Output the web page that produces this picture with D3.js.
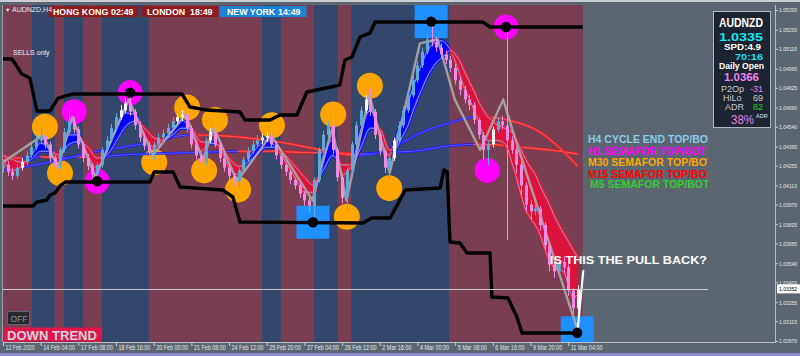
<!DOCTYPE html>
<html><head><meta charset="utf-8">
<script src="https://d3js.org/d3.v7.min.js"></script>
<style>
html,body{margin:0;padding:0;background:#5b6670;overflow:hidden}
svg{display:block}
text{font-family:"Liberation Sans",Arial,Helvetica,sans-serif}
</style></head><body>
<svg id="chart" width="800" height="356"></svg>
<script>
// ---------------- DATA ----------------
const priceTicks = ["1.05395","1.05250","1.05110","1.04965","1.04825","1.04680","1.04540","1.04395","1.04255","1.04110","1.03970","1.03825","1.03685","1.03540","1.03400","1.03255","1.03115","1.02970"];
const timeTickBars = [0,8,16,24,32,40,48,56,64,72,80,88,96,104,112,120];
const timeLabels = ["12 Feb 2020","14 Feb 04:00","17 Feb 08:00","18 Feb 16:00","20 Feb 00:00","21 Feb 08:00","24 Feb 12:00","25 Feb 20:00","27 Feb 04:00","28 Feb 12:00","2 Mar 16:00","4 Mar 00:00","5 Mar 08:00","6 Mar 16:00","9 Mar 20:00","11 Mar 04:00"];
const sessionEdges = [-0.6,6.1,11,12.9,17,21,31,55,59,66,71.1,73.9,94.7,123.1];
const sessionKinds = ["r","b","r","b","r","b","r","b","r","b","r","b","r"];

const candleOpen = [1.0424,1.0426,1.0421,1.0418,1.0424,1.0428,1.0433,1.0439,1.0444,1.0447,1.0441,1.0431,1.0425,1.0437,1.0450,1.0458,1.0452,1.0441,1.0431,1.0425,1.0419,1.0426,1.0437,1.0444,1.0453,1.0461,1.0466,1.0471,1.0465,1.0455,1.0446,1.0440,1.0436,1.0441,1.0446,1.0449,1.0453,1.0458,1.0461,1.0463,1.0453,1.0441,1.0433,1.0428,1.0444,1.0450,1.0441,1.0431,1.0424,1.0418,1.0414,1.0422,1.0430,1.0436,1.0441,1.0444,1.0446,1.0447,1.0441,1.0433,1.0426,1.0421,1.0415,1.0411,1.0405,1.0400,1.0396,1.0415,1.0437,1.0448,1.0455,1.0437,1.0417,1.0402,1.0422,1.0441,1.0455,1.0466,1.0474,1.0465,1.0448,1.0436,1.0424,1.0431,1.0444,1.0455,1.0466,1.0477,1.0488,1.0499,1.0509,1.0518,1.0516,1.0512,1.0507,1.0503,1.0497,1.0488,1.0481,1.0474,1.0470,1.0459,1.0448,1.0437,1.0441,1.0452,1.0458,1.0455,1.0444,1.0437,1.0426,1.0411,1.0397,1.0392,1.0394,1.0382,1.0367,1.0353,1.0348,1.0355,1.0351,1.0334,1.0321];
const candleHigh = [1.0430,1.0429,1.0424,1.0427,1.0431,1.0436,1.0442,1.0448,1.0453,1.0450,1.0443,1.0433,1.0439,1.0453,1.0466,1.0461,1.0454,1.0443,1.0434,1.0427,1.0428,1.0439,1.0447,1.0456,1.0464,1.0470,1.0475,1.0479,1.0467,1.0458,1.0449,1.0443,1.0443,1.0449,1.0452,1.0456,1.0461,1.0464,1.0466,1.0468,1.0455,1.0444,1.0435,1.0446,1.0453,1.0458,1.0443,1.0434,1.0426,1.0420,1.0424,1.0432,1.0439,1.0444,1.0448,1.0449,1.0450,1.0453,1.0443,1.0435,1.0428,1.0423,1.0417,1.0413,1.0407,1.0402,1.0417,1.0439,1.0451,1.0458,1.0463,1.0439,1.0419,1.0424,1.0443,1.0458,1.0469,1.0477,1.0482,1.0467,1.0450,1.0438,1.0433,1.0446,1.0458,1.0469,1.0480,1.0491,1.0502,1.0512,1.0522,1.0531,1.0520,1.0515,1.0510,1.0506,1.0500,1.0490,1.0484,1.0477,1.0472,1.0461,1.0450,1.0444,1.0454,1.0461,1.0462,1.0527,1.0447,1.0439,1.0428,1.0413,1.0400,1.0398,1.0396,1.0384,1.0369,1.0356,1.0358,1.0359,1.0353,1.0336,1.0338];
const candleLow = [1.0420,1.0418,1.0415,1.0416,1.0422,1.0426,1.0431,1.0437,1.0442,1.0438,1.0428,1.0420,1.0423,1.0435,1.0448,1.0449,1.0438,1.0428,1.0422,1.0416,1.0413,1.0424,1.0435,1.0442,1.0451,1.0459,1.0464,1.0462,1.0452,1.0443,1.0437,1.0433,1.0430,1.0439,1.0443,1.0447,1.0451,1.0456,1.0458,1.0450,1.0438,1.0430,1.0424,1.0426,1.0442,1.0439,1.0428,1.0421,1.0415,1.0411,1.0409,1.0420,1.0428,1.0434,1.0439,1.0441,1.0443,1.0439,1.0430,1.0423,1.0418,1.0412,1.0408,1.0402,1.0396,1.0392,1.0384,1.0413,1.0435,1.0446,1.0434,1.0414,1.0398,1.0392,1.0420,1.0439,1.0453,1.0464,1.0462,1.0445,1.0433,1.0420,1.0415,1.0429,1.0442,1.0453,1.0464,1.0475,1.0486,1.0497,1.0507,1.0513,1.0509,1.0504,1.0500,1.0494,1.0485,1.0477,1.0471,1.0466,1.0456,1.0445,1.0430,1.0426,1.0439,1.0450,1.0452,1.0371,1.0434,1.0420,1.0404,1.0392,1.0386,1.0389,1.0378,1.0363,1.0348,1.0343,1.0346,1.0347,1.0330,1.0316,1.0303];
const candleClose = [1.0426,1.0421,1.0418,1.0424,1.0428,1.0433,1.0439,1.0444,1.0447,1.0441,1.0431,1.0425,1.0437,1.0450,1.0458,1.0452,1.0441,1.0431,1.0425,1.0419,1.0426,1.0437,1.0444,1.0453,1.0461,1.0466,1.0471,1.0465,1.0455,1.0446,1.0440,1.0436,1.0441,1.0446,1.0449,1.0453,1.0458,1.0461,1.0463,1.0453,1.0441,1.0433,1.0428,1.0444,1.0450,1.0441,1.0431,1.0424,1.0418,1.0414,1.0422,1.0430,1.0436,1.0441,1.0444,1.0446,1.0447,1.0441,1.0433,1.0426,1.0421,1.0415,1.0411,1.0405,1.0400,1.0396,1.0415,1.0437,1.0448,1.0455,1.0437,1.0417,1.0402,1.0422,1.0441,1.0455,1.0466,1.0474,1.0465,1.0448,1.0436,1.0424,1.0431,1.0444,1.0455,1.0466,1.0477,1.0488,1.0499,1.0509,1.0518,1.0516,1.0512,1.0507,1.0503,1.0497,1.0488,1.0481,1.0474,1.0470,1.0459,1.0448,1.0437,1.0441,1.0452,1.0458,1.0455,1.0444,1.0437,1.0426,1.0411,1.0397,1.0392,1.0394,1.0382,1.0367,1.0353,1.0348,1.0355,1.0351,1.0334,1.0321,1.03352];
const whiteBars = [4,25,26,37,38,44,55,56,77,83,104,122];

const upperChannel = [[-0.6,1.05036],[1.9,1.05036],[4.0,1.04926],[5.7,1.04897],[7.2,1.04655],[10.0,1.04655],[11.7,1.0475],[14.9,1.0478],[38.0,1.0478],[39.7,1.04684],[43.3,1.04662],[50.3,1.04648],[51.4,1.04589],[56.7,1.04589],[58.8,1.04626],[62.4,1.04626],[64.5,1.04794],[71.5,1.04845],[72.6,1.05029],[74.1,1.05051],[75.8,1.05197],[77.9,1.05226],[79.0,1.05307],[101.9,1.05307],[103.4,1.0527],[123.1,1.0527]];
const lowerChannel = [[-0.6,1.03959],[6.4,1.03959],[7.2,1.03988],[9.3,1.04003],[10.0,1.0404],[11.0,1.04054],[12.1,1.04106],[13.2,1.04135],[31.2,1.04135],[32.1,1.04208],[36.1,1.04208],[37.6,1.04098],[46.7,1.04076],[48.8,1.04025],[50.3,1.03842],[76.4,1.03834],[78.3,1.03871],[82.2,1.03871],[85.4,1.04076],[92.8,1.04091],[93.6,1.04223],[94.3,1.04208],[94.9,1.03695],[97.0,1.03688],[98.5,1.03615],[103.4,1.03615],[103.8,1.03292],[107.2,1.03285],[109.1,1.03146],[110.2,1.03029],[122,1.03029]];

const ribbonBars = [0,2,4,6,8,10,12,14,16,18,20,22,24,26,28,30,32,34,36,38,40,42,44,46,48,50,52,54,56,58,60,62,64,66,68,70,72,74,76,78,80,82,83,84,85,86,87,88,89,90,91,92,93,94,95,96,97,98,99,100,101,102,103,104,105,106,107,108,109,110,111,112,113,114,115,116,117,118,119,120,121,122];
const ribbonFast = [1.0430,1.0422,1.0425,1.0433,1.0442,1.0437,1.0431,1.0448,1.0448,1.0433,1.0424,1.0437,1.0452,1.0464,1.0463,1.0448,1.0439,1.0444,1.0452,1.0459,1.0450,1.0436,1.0443,1.0439,1.0424,1.0419,1.0430,1.0439,1.0444,1.0439,1.0428,1.0417,1.0406,1.0406,1.0433,1.0444,1.0419,1.0426,1.0452,1.0466,1.0448,1.0433,1.0442,1.0452,1.0463,1.0472,1.0482,1.0492,1.0501,1.0509,1.0514,1.0516,1.0517,1.0515,1.0510,1.0502,1.0492,1.0482,1.0475,1.0466,1.0458,1.0448,1.0444,1.0444,1.0444,1.0443,1.0439,1.0428,1.0417,1.0404,1.0393,1.0387,1.0382,1.0375,1.0365,1.0356,1.0351,1.0349,1.0348,1.0338,1.0329,1.0331];
const ribbonSlow = [1.0433,1.0430,1.0428,1.0430,1.0436,1.0436,1.0433,1.0441,1.0443,1.0439,1.0431,1.0433,1.0443,1.0454,1.0458,1.0453,1.0446,1.0444,1.0448,1.0453,1.0452,1.0443,1.0442,1.0440,1.0431,1.0425,1.0428,1.0434,1.0439,1.0439,1.0433,1.0425,1.0417,1.0411,1.0422,1.0433,1.0426,1.0426,1.0439,1.0453,1.0452,1.0437,1.0437,1.0441,1.0448,1.0455,1.0465,1.0474,1.0482,1.0490,1.0496,1.0501,1.0504,1.0507,1.0510,1.0507,1.0502,1.0494,1.0487,1.0480,1.0472,1.0466,1.0461,1.0458,1.0455,1.0454,1.0452,1.0450,1.0444,1.0437,1.0430,1.0424,1.0419,1.0411,1.0404,1.0397,1.0389,1.0382,1.0376,1.0370,1.0364,1.0358];

const slowMA1 = [[0,1.0432],[4,1.0431],[8,1.0432],[12,1.0431],[16,1.0432],[20,1.0431],[24,1.0433],[30,1.0434],[40,1.0435],[50,1.0436],[58,1.0436],[64,1.0435],[70,1.0435],[76,1.0434],[80,1.0435],[87,1.0436],[95,1.0440],[100,1.0441],[103,1.0441],[110,1.0439],[116,1.0437],[122,1.0434]];
const slowMA2 = [[0,1.0422],[10,1.0428],[20,1.0436],[29,1.0441],[40,1.0448],[48,1.0447],[60,1.0442],[69,1.0436],[75,1.0433],[80,1.0435],[84,1.0441],[89,1.0450],[95,1.0457],[100,1.0461],[103,1.0461],[107,1.0459],[114,1.0450],[118,1.0439],[122,1.0425]];

const zigzag = [[0,1.0428],[8.5,1.0448],[11.7,1.0424],[14.7,1.0461],[19.6,1.0417],[26.7,1.0474],[31.8,1.0433],[38.8,1.0463],[42.4,1.0430],[44.8,1.0453],[49.7,1.0414],[56.9,1.0448],[65.7,1.0400],[69.9,1.0453],[72.9,1.0400],[77.8,1.0477],[82.1,1.0420],[88.5,1.0515],[92.3,1.0518],[95.9,1.0474],[101.3,1.0437],[106.2,1.0474],[108.3,1.0450],[122,1.0305]];
const zigzagLive = [[122,1.0305],[123.2,1.0349]];

const semaforM30 = [[8.9,1.0454],[12.1,1.0420],[32.1,1.0428],[39.1,1.0468],[42.7,1.0422],[45.0,1.0459],[49.9,1.0408],[57.1,1.0455],[70.1,1.0463],[73.0,1.0388],[77.9,1.0484],[82.0,1.0409]];
const semaforH1 = [[15.1,1.0465],[102.8,1.0422]];
const semaforH1Ring = [[20.0,1.0414],[27.0,1.0479],[106.8,1.0527]];
const cycleEndH4 = [[65.8,1.0384],[90.9,1.0531],[121.9,1.0303]];
const bidPrice = 1.03352;

const legendLabels = ["H4 CYCLE END TOP/BOT","H1 SEMAFOR TOP/BOT","M30 SEMAFOR TOP/BOT","M15 SEMAFOR TOP/BOT","M5 SEMAFOR TOP/BOT"];
const legendColors = ["#87cbea","#ff00ff","#ffa500","#ff0000","#32cd32"];
const sessionNames = ["HONG KONG","LONDON","NEW YORK"];
const sessionTimes = ["02:49","18:49","14:49"];
const panelSymbol = "AUDNZD", panelBid = "1.0335", panelSpread = "SPD:4.9", panelTimer = "70:16",
      panelDailyOpen = "1.0366", panelP2Op = "-31", panelHiLo = "69", panelADR = "82", panelADRPct = "38%";

// ---------------- CHART ----------------
const svg = d3.select('#chart');
const xs = d3.scaleLinear().domain([0,163.9]).range([3,775]);
const ys = d3.scaleLinear().domain([1.02970,1.05395]).range([341,10]);
const P = {l:3,t:5,r:775,b:342};

const defs = svg.append('defs');
defs.append('clipPath').attr('id','plot').append('rect')
  .attr('x',P.l).attr('y',P.t).attr('width',P.r-P.l).attr('height',P.b-P.t);
defs.append('clipPath').attr('id','lbl').append('rect')
  .attr('x',0).attr('y',0).attr('width',708).attr('height',356);

svg.append('rect').attr('width',800).attr('height',356).attr('fill','#5b6670');
svg.append('rect').attr('width',800).attr('height',2).attr('fill','#c9ced4');
svg.append('rect').attr('y',353).attr('width',800).attr('height',3).attr('fill','#8f8fcf');

const g = svg.append('g').attr('clip-path','url(#plot)');

// sessions
const bandColor = {r:'#7a3e53', b:'#33476c'};
sessionKinds.forEach((k,i)=>{
  g.append('rect').attr('x',xs(sessionEdges[i])).attr('y',P.t)
   .attr('width',xs(sessionEdges[i+1])-xs(sessionEdges[i])).attr('height',P.b-P.t)
   .attr('fill',bandColor[k]);
});

// H4 cycle squares
g.selectAll('rect.h4').data(cycleEndH4).join('rect').attr('class','h4')
  .attr('x',d=>xs(d[0])-16.5).attr('y',d=>ys(d[1])-16.5).attr('width',33).attr('height',33)
  .attr('fill','#1e90ff');

// semafor circles
g.selectAll('circle.m30').data(semaforM30).join('circle').attr('class','m30')
  .attr('cx',d=>xs(d[0])).attr('cy',d=>ys(d[1])).attr('r',13).attr('fill','#ffa500');
g.selectAll('circle.h1').data(semaforH1.concat(semaforH1Ring)).join('circle').attr('class','h1')
  .attr('cx',d=>xs(d[0])).attr('cy',d=>ys(d[1])).attr('r',12.5).attr('fill','#ff00ff');

function addClip(id, intervals){
  const cp = defs.append('clipPath').attr('id',id);
  intervals.forEach(([a,b])=>{
    cp.append('rect').attr('x',xs(a)-0.3).attr('y',0).attr('width',xs(b)-xs(a)+0.6).attr('height',356);
  });
}

// slow MAs (blue rising, red falling)
function slopeIntervals(pts){
  const up=[],dn=[];
  for(let k=0;k<pts.length-1;k++){
    const a=pts[k][0], b=pts[k+1][0];
    const s=[k===0?a-5:a, k===pts.length-2?b+5:b];
    (pts[k+1][1]>pts[k][1]?up:dn).push(s);
  }
  return {up,dn};
}
const lineC = d3.line().x(d=>xs(d[0])).y(d=>ys(d[1])).curve(d3.curveMonotoneX);
[slowMA1, slowMA2].forEach((pts,n)=>{
  const iv = slopeIntervals(pts);
  addClip('su'+n, iv.up); addClip('sd'+n, iv.dn);
  g.append('path').attr('d',lineC(pts)).attr('fill','none').attr('stroke','#1a1aff').attr('stroke-width',2.4).attr('clip-path','url(#su'+n+')');
  g.append('path').attr('d',lineC(pts)).attr('fill','none').attr('stroke','#ff1c1c').attr('stroke-width',2.4).attr('clip-path','url(#sd'+n+')');
  g.append('path').attr('d',lineC(pts)).attr('fill','none').attr('stroke','#e8e8ff').attr('stroke-width',0.6).attr('opacity',0.5);
});

// fast ribbon
const rib = ribbonBars.map((b,k)=>({b, f:ribbonFast[k], s:ribbonSlow[k]}));
const ribUp=[], ribDn=[];
(function(){
  let start=-5, sgn = Math.sign(rib[0].f-rib[0].s)||1;
  for(let k=1;k<rib.length;k++){
    const d0=rib[k-1].f-rib[k-1].s, d1=rib[k].f-rib[k].s;
    const s1=Math.sign(d1)||sgn;
    if(s1!==sgn){
      const t = d0===d1?0:d0/(d0-d1);
      const xb = rib[k-1].b + t*(rib[k].b-rib[k-1].b);
      (sgn>0?ribUp:ribDn).push([start,xb]); start=xb; sgn=s1;
    }
  }
  (sgn>0?ribUp:ribDn).push([start,130]);
})();
addClip('ru',ribUp); addClip('rd',ribDn);
const ribArea = d3.area().x(d=>xs(d.b)).y0(d=>ys(d.s)).y1(d=>ys(d.f)).curve(d3.curveMonotoneX);
g.append('path').attr('d',ribArea(rib)).attr('fill','#0000ff').attr('clip-path','url(#ru)');
g.append('path').attr('d',ribArea(rib)).attr('fill','#dc143c').attr('clip-path','url(#rd)');
const fastLine = d3.line().x(d=>xs(d.b)).y(d=>ys(d.f)).curve(d3.curveMonotoneX);
const slowLine = d3.line().x(d=>xs(d.b)).y(d=>ys(d.s)).curve(d3.curveMonotoneX);
[fastLine, slowLine].forEach(L=>{
  g.append('path').attr('d',L(rib)).attr('fill','none').attr('stroke','#1414ff').attr('stroke-width',3.2).attr('clip-path','url(#ru)');
  g.append('path').attr('d',L(rib)).attr('fill','none').attr('stroke','#e0163f').attr('stroke-width',4).attr('clip-path','url(#rd)');
  g.append('path').attr('d',L(rib)).attr('fill','none').attr('stroke','#9db0e8').attr('stroke-width',0.9).attr('clip-path','url(#ru)');
  g.append('path').attr('d',L(rib)).attr('fill','none').attr('stroke','#9aa3b0').attr('stroke-width',1).attr('clip-path','url(#rd)');
});

// zigzag
const lineL = d3.line().x(d=>xs(d[0])).y(d=>ys(d[1]));
g.append('path').attr('d',lineL(zigzag)).attr('fill','none').attr('stroke','#a9a9a9')
  .attr('stroke-width',2.4).attr('stroke-linejoin','round').attr('opacity',0.9);

// candles
const bullBlue='#62a8d4', bullWhite='#f6f6f2', bear='#f08ae6';
const cIdx = d3.range(candleClose.length);
const colorOf = i => candleClose[i]>=candleOpen[i] ? (whiteBars.includes(i)?bullWhite:bullBlue) : bear;
g.selectAll('line.wick').data(cIdx).join('line').attr('class','wick')
  .attr('x1',i=>Math.round(xs(i))+0.5).attr('x2',i=>Math.round(xs(i))+0.5)
  .attr('y1',i=>ys(candleHigh[i])).attr('y2',i=>ys(candleLow[i]))
  .attr('stroke',colorOf).attr('stroke-width',1);
g.selectAll('rect.body').data(cIdx).join('rect').attr('class','body')
  .attr('x',i=>Math.round(xs(i))-1).attr('width',3)
  .attr('y',i=>ys(Math.max(candleOpen[i],candleClose[i])))
  .attr('height',i=>Math.max(1,Math.abs(ys(candleOpen[i])-ys(candleClose[i]))))
  .attr('fill',colorOf);

// live zigzag leg
g.append('path').attr('d',lineL(zigzagLive)).attr('fill','none').attr('stroke','#ffffff').attr('stroke-width',2.2);

// channels
[upperChannel, lowerChannel].forEach(ch=>{
  g.append('path').attr('d',lineL(ch)).attr('fill','none').attr('stroke','#000')
   .attr('stroke-width',3.4).attr('stroke-linejoin','round');
});

// black dots
g.selectAll('circle.dot').data(semaforH1Ring.concat(cycleEndH4)).join('circle').attr('class','dot')
  .attr('cx',d=>xs(d[0])).attr('cy',d=>ys(d[1])).attr('r',5.2).attr('fill','#000');

// bid line
svg.append('line').attr('x1',P.l).attr('x2',708).attr('y1',Math.round(ys(bidPrice))+0.5).attr('y2',Math.round(ys(bidPrice))+0.5)
  .attr('stroke','#c4c8cc').attr('stroke-width',1);

// frame
svg.append('line').attr('x1',P.r+0.5).attr('x2',P.r+0.5).attr('y1',P.t).attr('y2',P.b+0.5).attr('stroke','#b9bfc5');
svg.append('line').attr('x1',P.l).attr('x2',P.r+0.5).attr('y1',P.b+0.5).attr('y2',P.b+0.5).attr('stroke','#b9bfc5');
svg.append('line').attr('x1',2.5).attr('x2',2.5).attr('y1',P.t).attr('y2',P.b).attr('stroke','#9aa3ad');

// price axis
const yAxis = d3.axisRight(ys).tickValues(priceTicks.map(Number)).tickFormat((d,i)=>priceTicks[i]).tickSize(3);
const ya = svg.append('g').attr('transform',`translate(${P.r},0)`).call(yAxis);
ya.select('.domain').remove();
ya.selectAll('line').attr('stroke','#c8cdd2');
ya.selectAll('text').attr('x',4).attr('fill','#e4e6e8').attr('font-size',6.2)
  .attr('textLength',18).attr('lengthAdjust','spacingAndGlyphs')
  .attr('font-family','"Liberation Sans",Arial,sans-serif');
// bid label
const by = ys(bidPrice);
svg.append('rect').attr('x',777).attr('y',by-4.5).attr('width',23).attr('height',9).attr('fill','#ffffff');
svg.append('text').attr('x',779).attr('y',by+2.3).attr('font-size',6.2).attr('fill','#000')
  .attr('textLength',18).attr('lengthAdjust','spacingAndGlyphs').text(bidPrice.toFixed(5));

// time axis
const xAxis = d3.axisBottom(xs).tickValues(timeTickBars).tickFormat((d,i)=>timeLabels[i]).tickSize(4);
const xa = svg.append('g').attr('transform',`translate(0,${P.b})`).call(xAxis);
xa.select('.domain').remove();
xa.selectAll('line').attr('stroke','#c8cdd2');
xa.selectAll('text').attr('x',2).attr('y',3).attr('dy','0.71em').attr('text-anchor','start')
  .attr('fill','#e4e6e8').attr('font-size',6.6)
  .attr('textLength',(d,i)=>timeLabels[i].length*2.65).attr('lengthAdjust','spacingAndGlyphs')
  .attr('font-family','"Liberation Sans",Arial,sans-serif');

// header session boxes
const hdr = [{x:48.5,w:90,c:'#8e1b1d',nx:53,tx:111},{x:141.5,w:77,c:'#8e1b1d',nx:147,tx:190},{x:219.5,w:87,c:'#1b82d6',nx:227,tx:278}];
hdr.forEach((h,i)=>{
  svg.append('rect').attr('x',h.x).attr('y',6).attr('width',h.w).attr('height',11).attr('fill',h.c);
  svg.append('text').attr('x',h.nx).attr('y',15).attr('font-size',8.8).attr('font-weight','bold').attr('fill','#fff').text(sessionNames[i]);
  svg.append('text').attr('x',h.tx).attr('y',15).attr('font-size',8.8).attr('font-weight','bold').attr('fill','#fff').text(sessionTimes[i]);
});
svg.append('text').attr('x',5).attr('y',12).attr('font-size',5.5).attr('fill','#e8e8e8').text('▼');
svg.append('text').attr('x',12).attr('y',12).attr('font-size',7).attr('fill','#e8e8e8').text('AUDNZD,H4');
svg.append('text').attr('x',13).attr('y',55).attr('font-size',7).attr('fill','#f0f0f0').text('SELLS only');

// legend labels
const lg = svg.append('g').attr('clip-path','url(#lbl)');
const lgY = [143,154.5,165.5,177.5,188];
legendLabels.forEach((t,i)=>{
  lg.append('text').attr('x',i===4?590:588).attr('y',lgY[i]).attr('font-size',10.5).attr('font-weight','bold')
    .attr('fill',legendColors[i]).text(t);
});

// question text
svg.append('text').attr('x',550).attr('y',263.5).attr('font-size',11).attr('font-weight','bold')
  .attr('fill','#ffffff').attr('textLength',157).attr('lengthAdjust','spacingAndGlyphs').text('IS THIS THE PULL BACK?');

// OFF button & trend label
svg.append('rect').attr('x',7.5).attr('y',311.5).attr('width',22).attr('height',13).attr('fill','#262a2e').attr('stroke','#5e6670');
svg.append('text').attr('x',10.5).attr('y',321.5).attr('font-size',8.5).attr('fill','#8a9096').text('OFF');
svg.append('rect').attr('x',4).attr('y',327.5).attr('width',98).attr('height',14).attr('fill','#e0154a');
svg.append('text').attr('x',7).attr('y',339.5).attr('font-size',12.5).attr('font-weight','bold')
  .attr('fill','#d9d2de').attr('textLength',90).attr('lengthAdjust','spacingAndGlyphs').text('DOWN TREND');

// info panel
svg.append('rect').attr('x',713.5).attr('y',11.5).attr('width',57).attr('height',116).attr('fill','#1b2430').attr('stroke','#aeb6be');
const pt = (x,y,s,c,t,opt={})=>{
  const e=svg.append('text').attr('x',x).attr('y',y).attr('font-size',s).attr('fill',c).text(t);
  if(opt.bold) e.attr('font-weight','bold');
  if(opt.len) e.attr('textLength',opt.len).attr('lengthAdjust','spacingAndGlyphs');
  if(opt.anchor) e.attr('text-anchor',opt.anchor);
  return e;
};
pt(719,27,12,'#ffffff',panelSymbol,{bold:1,len:44});
pt(719,40.5,11.5,'#19e3f0',panelBid,{bold:1,len:44});
pt(724,50,9,'#ffffff',panelSpread,{bold:1,len:37});
pt(735,59.5,9.5,'#19e3f0',panelTimer,{bold:1,len:28});
pt(719,69,9.3,'#ffffff','Daily Open',{bold:1,len:45});
pt(724,81,11.5,'#ee82ee',panelDailyOpen,{bold:1,len:35});
pt(721,91.5,9,'#c9ccd0','P2Op');
pt(763,91.5,9,'#ee82ee',panelP2Op,{anchor:'end'});
pt(723,100.5,9,'#c9ccd0','HiLo');
pt(763,100.5,9,'#c9ccd0',panelHiLo,{anchor:'end'});
pt(725,109.5,9,'#c9ccd0','ADR');
pt(763,109.5,9,'#32cd32',panelADR,{anchor:'end'});
pt(731,124,12.5,'#ee82ee',panelADRPct,{len:23});
pt(756,118,5.5,'#e6e6e6','ADR');
</script></body></html>
